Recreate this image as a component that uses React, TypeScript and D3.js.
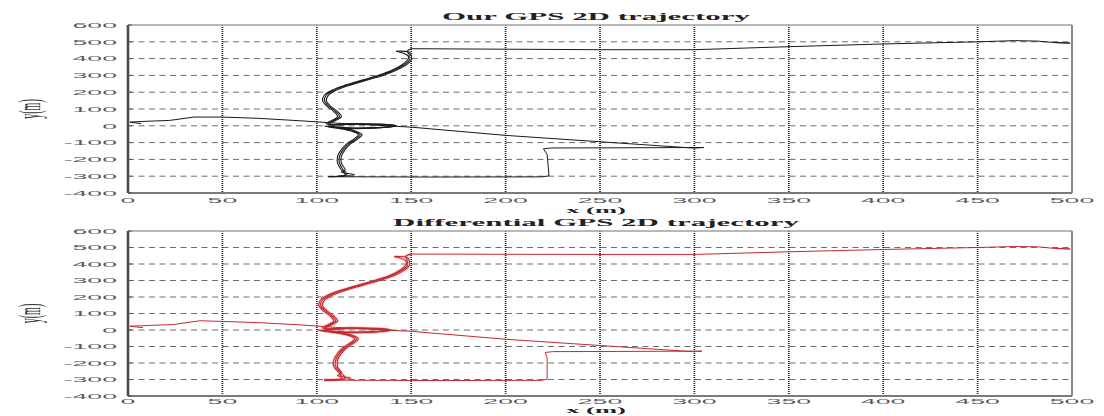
import React, { useEffect, useRef } from 'react';
import * as d3 from 'd3';

type Pt = [number, number];

// tick values
const xTicks = [0, 50, 100, 150, 200, 250, 300, 350, 400, 450, 500];
const yTicks = [-400, -300, -200, -100, 0, 100, 200, 300, 400, 500, 600];

// Our GPS trajectory
const gpsLeadIn: Pt[] = [[7,13],[1,22],[10,27],[22,32],[35,52],[50,52],[70,44],[91,30],[110,16],[137,0],[150,-8],[200,-57],[250,-95],[300,-133],[305,-129]];
const gpsReturn: Pt[] = [[305,-129],[262,-131],[224,-132],[220,-137],[222,-170],[223,-298],[219,-304],[160,-305],[106,-303]];
const gpsLap1: Pt[] = [[106,-303],[116,-290],[114,-262],[112,-222],[112,-182],[114,-142],[117,-106],[121,-76],[123,-52],[119,-30],[111,-13],[105,-3],[116,-14],[130,-13],[140,-4],[141,0],[132,8],[118,11],[107,6],[106,14],[109,32],[112,55],[110,85],[106,120],[104,152],[105,182],[109,212],[116,242],[125,272],[134,302],[141,332],[146,362],[149,392],[148,420],[142,444]];
const gpsLap2: Pt[] = [[142,444],[149,438],[150,418],[150,390],[147,360],[142,330],[135,300],[126,270],[117,240],[110,210],[106,180],[105,150],[107,120],[111,85],[113,55],[110,32],[107,14],[108,6],[119,10],[133,9],[142,1],[141,-4],[131,-11],[117,-12],[106,-2],[112,-12],[120,-29],[124,-52],[122,-76],[118,-106],[115,-142],[113,-182],[113,-222],[115,-262],[113,-276],[120,-291],[107,-302]];
const gpsLap3: Pt[] = [[107,-302],[115,-291],[113,-262],[111,-222],[111,-182],[113,-142],[116,-106],[120,-76],[122,-52],[118,-30],[110,-13],[104,-2],[115,-15],[130,-14],[139,-5],[142,0],[133,10],[118,12],[106,8],[105,15],[108,32],[111,55],[109,85],[105,120],[103,152],[104,182],[108,212],[115,242],[124,272],[133,302],[140,332],[145,362],[148,392],[149,420],[148,445],[150,459]];
const gpsTop: Pt[] = [[150,459],[200,456],[250,453],[300,453],[350,471],[400,487],[450,500],[470,507],[482,504],[492,494],[499,492],[491,497]];

// Differential GPS trajectory, lower panel
const dgpsLeadIn: Pt[] = [[8,14],[1,23],[12,28],[24,33],[38,56],[50,52],[70,44],[90,32],[110,16],[136,0],[150,-8],[200,-56],[250,-94],[300,-132],[304,-128]];
const dgpsReturn: Pt[] = [[304,-128],[260,-130],[225,-131],[221,-136],[222,-170],[222,-298],[219,-305],[160,-306],[104,-304]];
const dgpsLap1: Pt[] = [[104,-304],[115,-291],[113,-262],[110,-222],[110,-182],[112,-142],[115,-106],[119,-76],[121,-52],[117,-30],[109,-13],[102,-3],[114,-14],[128,-13],[137,-4],[138,0],[130,8],[116,11],[104,6],[104,14],[107,32],[110,55],[108,85],[104,120],[102,152],[103,182],[107,212],[114,242],[123,272],[132,302],[140,332],[145,362],[148,392],[147,420],[141,445]];
const dgpsLap2: Pt[] = [[141,445],[148,439],[149,418],[149,390],[146,360],[141,330],[133,300],[124,270],[115,240],[108,210],[104,180],[103,150],[105,120],[109,85],[111,55],[108,32],[105,14],[106,6],[117,10],[131,9],[139,1],[138,-4],[129,-11],[115,-12],[103,-2],[110,-12],[118,-29],[122,-52],[120,-76],[116,-106],[113,-142],[111,-182],[111,-222],[113,-262],[111,-277],[118,-292],[104,-303]];
const dgpsLap3: Pt[] = [[104,-303],[113,-292],[112,-262],[109,-222],[109,-182],[111,-142],[114,-106],[118,-76],[120,-52],[116,-30],[108,-13],[101,-2],[113,-15],[128,-14],[136,-5],[139,0],[131,10],[116,12],[104,8],[103,15],[106,32],[109,55],[107,85],[103,120],[101,152],[102,182],[106,212],[113,242],[122,272],[131,302],[139,332],[144,362],[147,392],[148,420],[147,446],[150,460]];
const dgpsTop: Pt[] = [[150,460],[200,459],[250,458],[300,458],[350,474],[400,488],[450,500],[470,506],[482,504],[492,493],[499,491],[491,496]];

const W = 1104, H = 416;
const SX = 3.6;   // the picture is stretched sideways, so is the text
const TSX = 2.95;

const panels = [
  { title: 'Our GPS 2D trajectory', top: 25, bottom: 193, tickGap: 9.5, xlabGap: 20, color: '#1a1a1a', halo: null as string | null,
    straight: [gpsLeadIn, gpsReturn, gpsTop], laps: [gpsLap1, gpsLap2, gpsLap3] },
  { title: 'Differential GPS 2D trajectory', top: 231, bottom: 396, tickGap: 8.3, xlabGap: 17.3, color: '#c42a32', halo: 'rgba(230,130,130,0.3)',
    straight: [dgpsLeadIn, dgpsReturn, dgpsTop], laps: [dgpsLap1, dgpsLap2, dgpsLap3] },
];

function App() {
  const ref = useRef<SVGSVGElement>(null);

  useEffect(() => {
    const svg = d3.select(ref.current);
    svg.selectAll('*').remove();
    svg.append('rect').attr('width', W).attr('height', H).attr('fill', '#fff');

    panels.forEach((p) => {
      const x = d3.scaleLinear().domain([0, 500]).range([128, 1072]);
      const y = d3.scaleLinear().domain([-400, 600]).range([p.bottom, p.top]);
      const g = svg.append('g');

      // horizontal dashed grid
      g.selectAll('.hg').data(yTicks.slice(1, -1)).enter().append('line')
        .attr('x1', x(0)).attr('x2', x(500))
        .attr('y1', (d) => y(d)).attr('y2', (d) => y(d))
        .attr('stroke', '#6e6e6e').attr('stroke-width', 1).attr('stroke-dasharray', '6,4.5');

      // vertical dotted grid
      g.selectAll('.vg').data(xTicks.slice(1, -1)).enter().append('line')
        .attr('x1', (d) => x(d)).attr('x2', (d) => x(d))
        .attr('y1', p.top).attr('y2', p.bottom)
        .attr('stroke', '#1c1c1c').attr('stroke-width', 1.7).attr('stroke-dasharray', '1,1');

      // frame
      g.append('line').attr('x1', x(0)).attr('x2', x(500)).attr('y1', p.top).attr('y2', p.top)
        .attr('stroke', '#a0a0a0').attr('stroke-width', 1.3);
      g.append('line').attr('x1', x(500)).attr('x2', x(500)).attr('y1', p.top).attr('y2', p.bottom)
        .attr('stroke', '#8a8a8a').attr('stroke-width', 2);
      g.append('line').attr('x1', x(0)).attr('x2', x(500)).attr('y1', p.bottom).attr('y2', p.bottom)
        .attr('stroke', '#7a7a7a').attr('stroke-width', 2);
      g.append('line').attr('x1', x(0)).attr('x2', x(0)).attr('y1', p.top).attr('y2', p.bottom)
        .attr('stroke', '#4a4a4a').attr('stroke-width', 2.6);

      // small inner ticks on the y axis
      g.selectAll('.yt').data(yTicks).enter().append('line')
        .attr('x1', x(0)).attr('x2', x(0) + 4)
        .attr('y1', (d) => y(d)).attr('y2', (d) => y(d))
        .attr('stroke', '#555').attr('stroke-width', 1);

      // tick labels
      g.selectAll('.yl').data(yTicks).enter().append('text')
        .attr('transform', (d) => `translate(117,${y(d) + 2.7}) scale(${SX},1)`)
        .attr('text-anchor', 'end')
        .attr('font-family', 'Liberation Sans, Arial, sans-serif')
        .attr('font-size', 7.4).attr('fill', '#5a5a5a')
        .text((d) => String(d));

      g.selectAll('.xl').data(xTicks).enter().append('text')
        .attr('transform', (d) => `translate(${x(d)},${p.bottom + p.tickGap}) scale(${SX},1)`)
        .attr('text-anchor', 'middle')
        .attr('font-family', 'Liberation Sans, Arial, sans-serif')
        .attr('font-size', 7.4).attr('fill', '#5a5a5a')
        .text((d) => String(d));

      // titles and axis names
      g.append('text')
        .attr('transform', `translate(596,${p.top - 5}) scale(${TSX},1)`)
        .attr('text-anchor', 'middle')
        .attr('font-family', 'Liberation Serif, Times New Roman, serif')
        .attr('font-weight', 'bold').attr('font-size', 10.5).attr('fill', '#222')
        .text(p.title);

      g.append('text')
        .attr('transform', `translate(596,${p.bottom + p.xlabGap}) scale(${TSX},1)`)
        .attr('text-anchor', 'middle')
        .attr('font-family', 'Liberation Serif, Times New Roman, serif')
        .attr('font-weight', 'bold').attr('font-size', 9).attr('fill', '#222')
        .text('x (m)');

      g.append('text')
        .attr('transform', `translate(40,${(p.top + p.bottom) / 2}) scale(3.2,1) rotate(-90)`)
        .attr('text-anchor', 'middle')
        .attr('font-family', 'Liberation Serif, Times New Roman, serif')
        .attr('font-size', 10).attr('fill', '#333')
        .text('y(m)');

      // trajectory
      const straight = d3.line<Pt>().x((d) => x(d[0])).y((d) => y(d[1]));
      const smooth = d3.line<Pt>().x((d) => x(d[0])).y((d) => y(d[1])).curve(d3.curveCatmullRom.alpha(0.5));
      const tr = g.append('g').attr('fill', 'none').attr('stroke-linejoin', 'round');

      if (p.halo) {
        p.laps.forEach((lap) => {
          tr.append('path').attr('d', smooth(lap)).attr('stroke', p.halo).attr('stroke-width', 3);
        });
      }
      p.straight.forEach((seg) => {
        tr.append('path').attr('d', straight(seg)).attr('stroke', p.color).attr('stroke-width', 1);
      });
      p.laps.forEach((lap) => {
        tr.append('path').attr('d', smooth(lap)).attr('stroke', p.color).attr('stroke-width', 1.1);
      });
    });
  }, []);

  return (
    <div style={{ position: 'fixed', left: 0, top: 0 }}>
      <svg ref={ref} width={W} height={H} style={{ display: 'block' }}></svg>
    </div>
  );
}

export default App;
